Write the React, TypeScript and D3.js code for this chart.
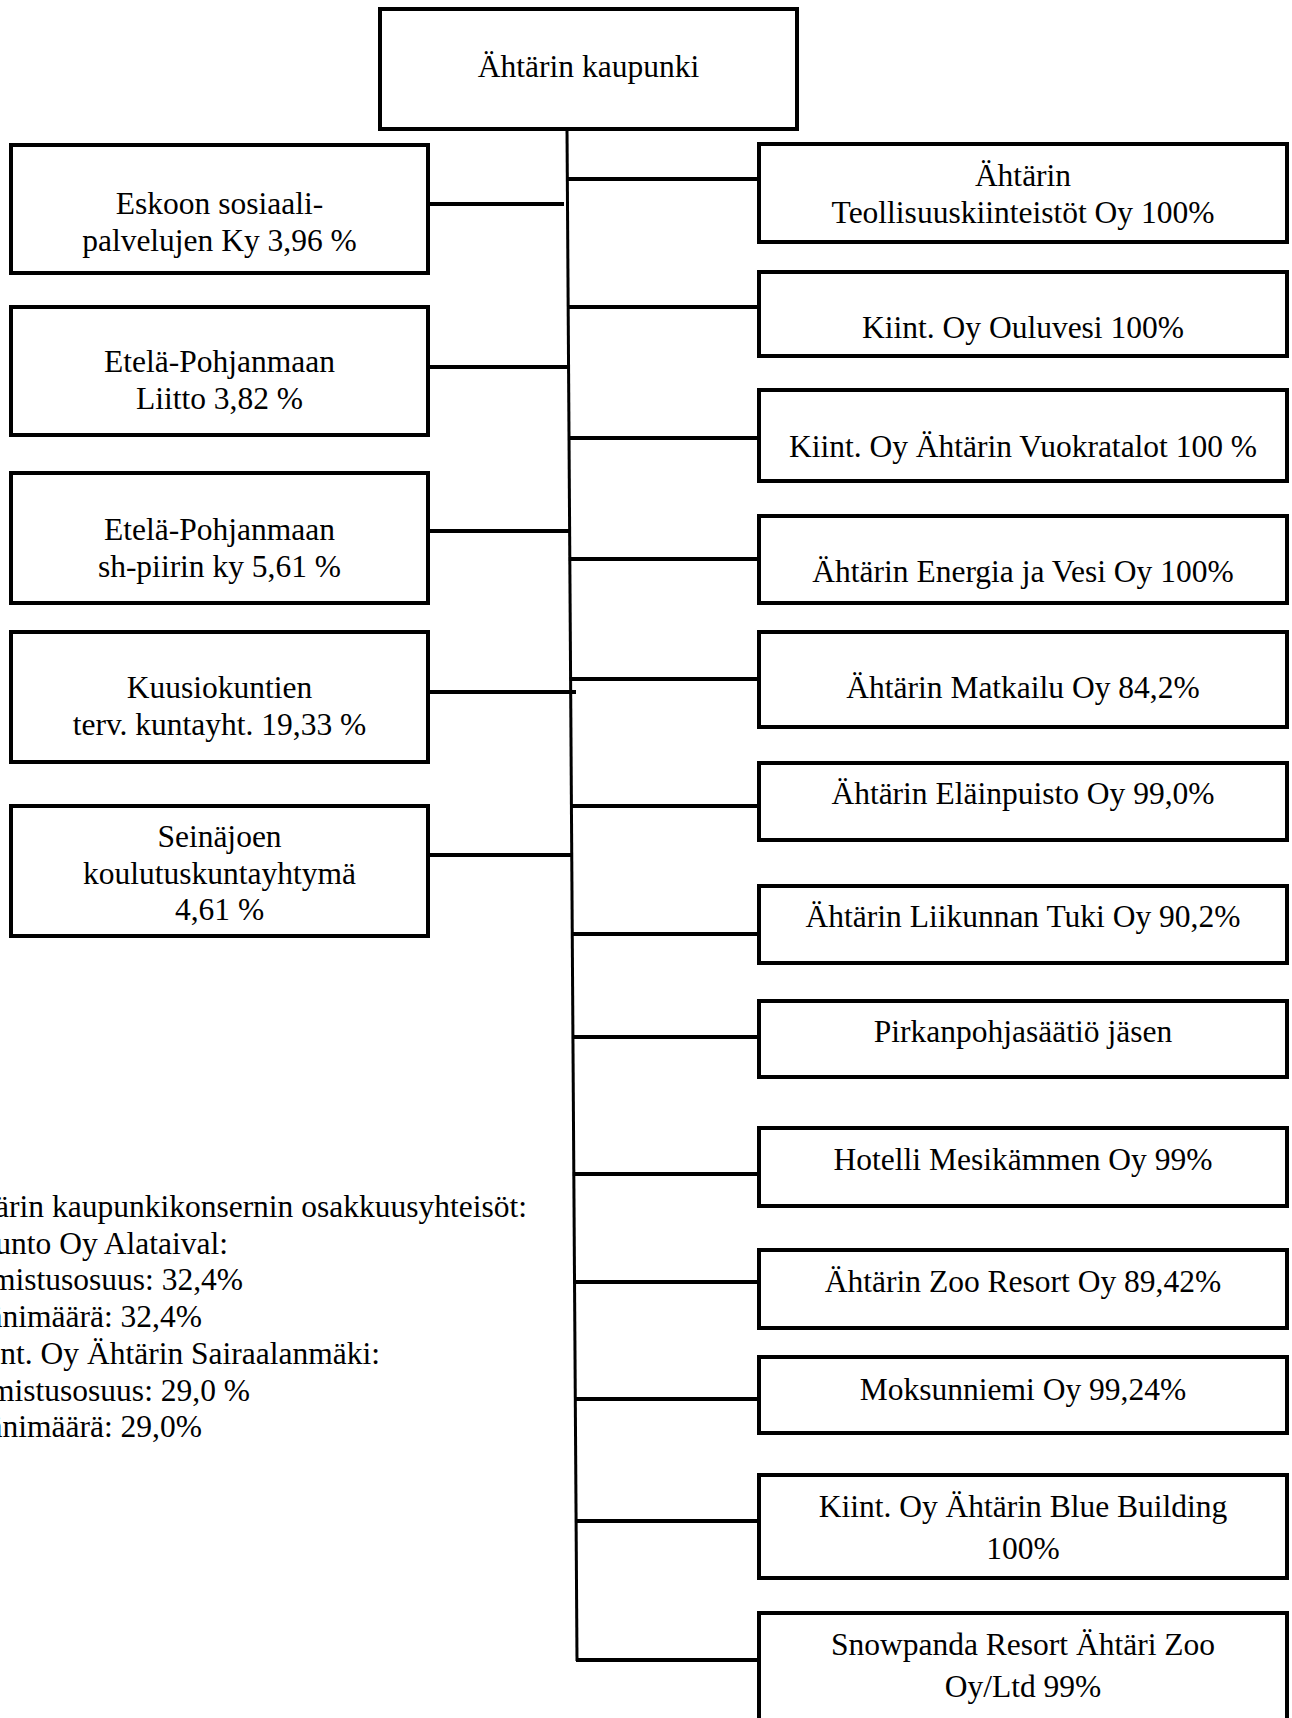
import React from 'react';
import * as d3 from 'd3';

// Chart content
const rootLabel = 'Ähtärin kaupunki';

const leftLabels: string[][] = [
  ['Eskoon sosiaali-', 'palvelujen Ky 3,96 %'],
  ['Etelä-Pohjanmaan', 'Liitto 3,82 %'],
  ['Etelä-Pohjanmaan', 'sh-piirin ky 5,61 %'],
  ['Kuusiokuntien', 'terv. kuntayht. 19,33 %'],
  ['Seinäjoen', 'koulutuskuntayhtymä', '4,61 %'],
];

const rightLabels: string[][] = [
  ['Ähtärin', 'Teollisuuskiinteistöt Oy 100%'],
  ['Kiint. Oy Ouluvesi 100%'],
  ['Kiint. Oy Ähtärin Vuokratalot 100 %'],
  ['Ähtärin Energia ja Vesi Oy 100%'],
  ['Ähtärin Matkailu Oy 84,2%'],
  ['Ähtärin Eläinpuisto Oy 99,0%'],
  ['Ähtärin Liikunnan Tuki Oy 90,2%'],
  ['Pirkanpohjasäätiö jäsen'],
  ['Hotelli Mesikämmen Oy 99%'],
  ['Ähtärin Zoo Resort Oy 89,42%'],
  ['Moksunniemi Oy 99,24%'],
  ['Kiint. Oy Ähtärin Blue Building', '100%'],
  ['Snowpanda Resort Ähtäri Zoo', 'Oy/Ltd 99%'],
];

const noteLines = [
  'Ähtärin kaupunkikonsernin osakkuusyhteisöt:',
  'Asunto Oy Alataival:',
  'Omistusosuus: 32,4%',
  'Äänimäärä: 32,4%',
  'Kiint. Oy Ähtärin Sairaalanmäki:',
  'Omistusosuus: 29,0 %',
  'Äänimäärä: 29,0%',
];

// Layout (measured from the page)
const W = 1292;
const H = 1718;
const FS = 31.5;
const LH = 36.7;

const rootBox = { x0: 380, x1: 797, y0: 9, y1: 129, base: 77 };

// [top, bottom, connector y, first baseline, connector end x]
const leftRows = [
  [145, 273, 204, 214, 564],
  [307, 435, 367, 372, 570],
  [473, 603, 531, 540, 570],
  [632, 762, 692, 698, 576],
  [806, 936, 855, 847, 572],
];
const leftX = [11, 428];

// [top, bottom, connector y, first baseline, line gap]
const rightRows = [
  [144, 242, 179, 186, LH],
  [272, 356, 307, 338, LH],
  [390, 481, 438, 457, LH],
  [516, 603, 559, 582, LH],
  [632, 727, 679, 698, LH],
  [763, 840, 806, 804, LH],
  [886, 963, 934, 927, LH],
  [1001, 1077, 1037, 1042, LH],
  [1128, 1206, 1174, 1170, LH],
  [1250, 1328, 1282, 1292, LH],
  [1357, 1433, 1399, 1400, LH],
  [1475, 1578, 1521, 1517, 41.5],
  [1613, 1730, 1660, 1655, 42],
];
const rightX = [759, 1287];

const noteEnds = [527, 228, 243, 202, 380, 250, 202];
const noteTop = 1217;

// trunk leans slightly to the right going down
const trunkY = [129, 1661];
const trunkX = d3.scaleLinear().domain(trunkY).range([567, 577]);

const font = '"Liberation Serif", "Times New Roman", serif';

export default function App() {
  const lx = (leftX[0] + leftX[1]) / 2;
  const rx = (rightX[0] + rightX[1]) / 2;
  const link = d3.line<[number, number]>();

  return (
    <svg
      width={W}
      height={H}
      style={{ position: 'absolute', left: 0, top: 0, background: '#fff' }}
      fontFamily={font}
      fontSize={FS}
    >
      <rect width={W} height={H} fill="#fff" />

      {/* trunk */}
      <path
        d={link([[trunkX(trunkY[0]), trunkY[0]], [trunkX(trunkY[1]), trunkY[1]]]) || ''}
        stroke="#000"
        strokeWidth={3}
        fill="none"
      />

      {/* root */}
      <rect
        x={rootBox.x0}
        y={rootBox.y0}
        width={rootBox.x1 - rootBox.x0}
        height={rootBox.y1 - rootBox.y0}
        fill="#fff"
        stroke="#000"
        strokeWidth={4}
      />
      <text x={(rootBox.x0 + rootBox.x1) / 2} y={rootBox.base} textAnchor="middle">
        {rootLabel}
      </text>

      {/* left side */}
      {leftLabels.map((lines, i) => {
        const [t, b, cy, base, ex] = leftRows[i];
        return (
          <g key={'l' + i}>
            <path d={link([[leftX[1], cy], [ex, cy]]) || ''} stroke="#000" strokeWidth={4} />
            <rect
              x={leftX[0]}
              y={t}
              width={leftX[1] - leftX[0]}
              height={b - t}
              fill="#fff"
              stroke="#000"
              strokeWidth={4}
            />
            {lines.map((s, j) => (
              <text key={j} x={lx} y={base + j * LH} textAnchor="middle">
                {s}
              </text>
            ))}
          </g>
        );
      })}

      {/* right side */}
      {rightLabels.map((lines, i) => {
        const [t, b, cy, base, gap] = rightRows[i];
        return (
          <g key={'r' + i}>
            <path
              d={link([[trunkX(cy) - 1, cy], [rightX[0], cy]]) || ''}
              stroke="#000"
              strokeWidth={4}
            />
            <rect
              x={rightX[0]}
              y={t}
              width={rightX[1] - rightX[0]}
              height={b - t}
              fill="#fff"
              stroke="#000"
              strokeWidth={4}
            />
            {lines.map((s, j) => (
              <text key={j} x={rx} y={base + j * gap} textAnchor="middle">
                {s}
              </text>
            ))}
          </g>
        );
      })}

      {/* associated companies note, runs off the left edge */}
      {noteLines.map((s, i) => (
        <text key={'n' + i} x={noteEnds[i]} y={noteTop + i * LH} textAnchor="end">
          {s}
        </text>
      ))}
    </svg>
  );
}
